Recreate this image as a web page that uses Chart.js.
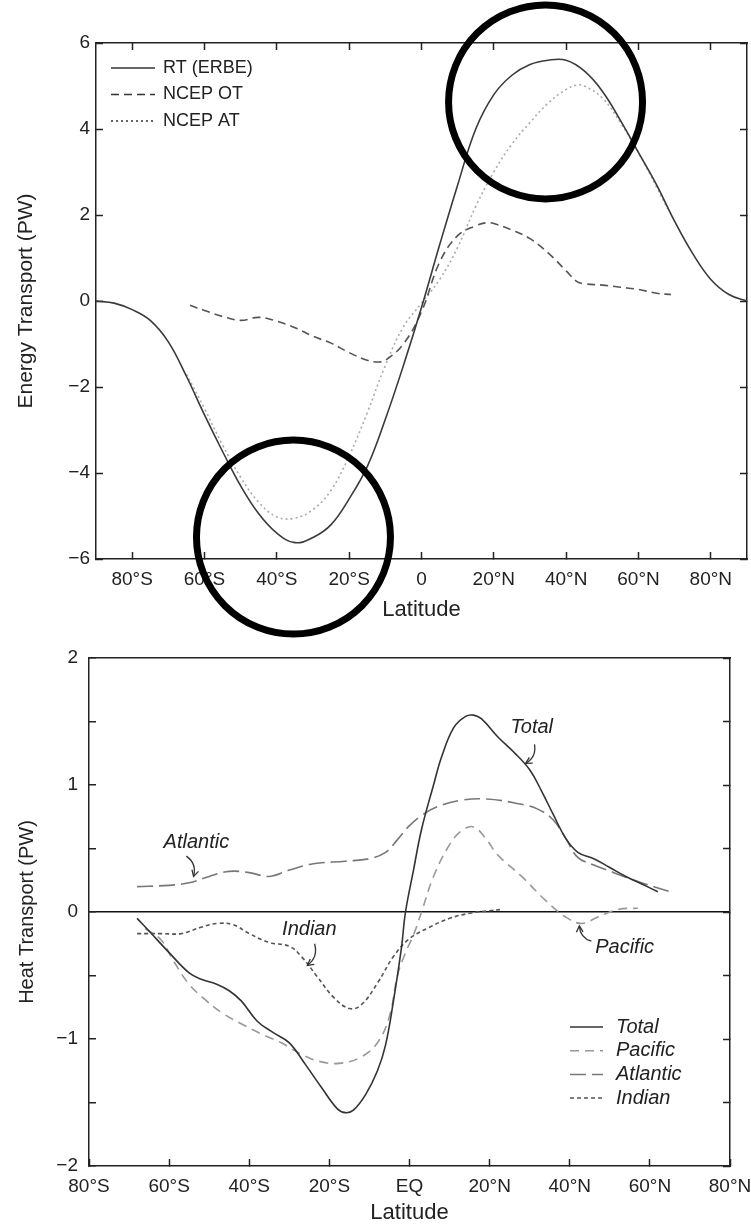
<!DOCTYPE html>
<html>
<head>
<meta charset="utf-8">
<title>Energy and heat transport by latitude</title>
<script src="https://cdn.jsdelivr.net/npm/chart.js@4.4.1/dist/chart.umd.min.js"></script>
<style>
  body { margin: 0; background: #fff; width: 751px; height: 1227px; overflow: hidden; }
  canvas { position: absolute; left: 0; }
  #energyChart { top: 0; }
  #heatChart { top: 640px; }
</style>
</head>
<body>
<canvas id="energyChart" width="751" height="640"></canvas>
<canvas id="heatChart" width="751" height="587"></canvas>
<script>
// ---- top panel: radiative vs NCEP ocean/atmosphere transport ----
const rtLat = [-90, -85, -80, -75, -70, -65, -60, -55, -50, -45, -40, -35, -30, -25, -20, -15, -10, -5, 0,
  5, 10, 15, 20, 25, 30, 35, 40, 45, 50, 55, 60, 65, 70, 75, 80, 85, 90];
const rtValues = [0, -0.05, -0.2, -0.45, -0.95, -1.75, -2.65, -3.5, -4.3, -4.95, -5.4, -5.62, -5.5, -5.2, -4.6, -3.85, -2.75, -1.5, -0.15,
  1.3, 2.7, 4.0, 4.8, 5.25, 5.5, 5.6, 5.6, 5.35, 4.88, 4.2, 3.45, 2.7, 1.85, 1.1, 0.5, 0.15, 0];

const otLat = [-64, -60, -55, -50, -45, -40, -35, -30, -25, -20, -15, -12, -10, -5, 0,
  5, 10, 15, 18, 20, 25, 30, 35, 40, 43, 45, 50, 55, 60, 65, 69];
const otValues = [-0.1, -0.22, -0.36, -0.45, -0.38, -0.47, -0.62, -0.82, -0.98, -1.2, -1.38, -1.42, -1.38, -1.0, -0.25,
  0.9, 1.52, 1.75, 1.82, 1.8, 1.65, 1.45, 1.12, 0.7, 0.45, 0.4, 0.37, 0.32, 0.27, 0.18, 0.15];

const atLat = [-65, -60, -55, -50, -45, -40, -35, -30, -25, -20, -15, -10, -5, 0,
  5, 10, 15, 20, 25, 30, 35, 40, 43, 45, 50, 55, 60, 65, 68];
const atValues = [-1.7, -2.5, -3.35, -4.1, -4.68, -5.02, -5.05, -4.85, -4.4, -3.6, -2.6, -1.5, -0.6, -0.05,
  0.5, 1.25, 2.2, 3.0, 3.65, 4.15, 4.6, 4.92, 5.02, 5.0, 4.72, 4.15, 3.45, 2.65, 2.15];

const energyLatTicks = [-80, -60, -40, -20, 0, 20, 40, 60, 80];
const energyLatLabels = ['80°S', '60°S', '40°S', '20°S', '0', '20°N', '40°N', '60°N', '80°N'];
const energyTicks = [-6, -4, -2, 0, 2, 4, 6];
const energyTickLabels = ['−6', '−4', '−2', '0', '2', '4', '6'];

// rings around the two transport extremes
const ringLat = [34.3, -35.4];
const ringValue = [4.63, -5.49];

// ---- bottom panel: ocean basin heat transport ----
const totalLat = [-68, -65, -60, -55, -52, -48, -45, -42, -38, -34, -30, -26, -22, -18, -16, -14, -11, -8, -6, -4, -2, -1,
  1, 3, 6, 8, 11, 14, 16, 18, 22, 26, 30, 33, 36, 39, 42, 46, 50, 54, 58, 62];
const totalValues = [-0.05, -0.15, -0.32, -0.48, -0.53, -0.57, -0.62, -0.7, -0.86, -0.95, -1.03, -1.2, -1.38, -1.55, -1.58, -1.56, -1.44, -1.25, -1.05, -0.7, -0.28, 0,
  0.33, 0.65, 1.0, 1.22, 1.45, 1.54, 1.55, 1.52, 1.38, 1.26, 1.12, 0.95, 0.76, 0.58, 0.47, 0.42, 0.35, 0.28, 0.22, 0.16];

const pacificLat = [-66, -62, -59, -55, -51, -47, -42, -37, -32, -27, -22, -17, -12, -8, -5, -3, -1,
  1, 3, 6, 10, 13, 16, 19, 22, 28, 34, 39, 43, 47, 52, 57];
const pacificValues = [-0.13, -0.22, -0.38, -0.57, -0.69, -0.79, -0.88, -0.96, -1.03, -1.12, -1.18, -1.19, -1.14, -1.03, -0.82, -0.5, -0.32,
  -0.18, 0.0, 0.28, 0.53, 0.64, 0.67, 0.58, 0.45, 0.28, 0.09, -0.04, -0.09, -0.04, 0.02, 0.03];

const atlanticLat = [-68, -60, -55, -50, -45, -40, -35, -30, -24, -16, -10, -6, -3, 0,
  3, 7, 13, 19, 26, 32, 36, 39, 42, 46, 51, 57, 65];
const atlanticValues = [0.2, 0.21, 0.23, 0.28, 0.32, 0.31, 0.28, 0.33, 0.38, 0.4, 0.42, 0.47, 0.57, 0.68,
  0.76, 0.83, 0.88, 0.89, 0.86, 0.81, 0.72, 0.58, 0.43, 0.37, 0.31, 0.24, 0.16];

const indianLat = [-68, -62, -57, -52, -48, -44, -40, -35, -30, -27, -23, -19, -15, -12, -8, -4, 0, 5, 10, 15, 20, 23];
const indianValues = [-0.17, -0.17, -0.17, -0.12, -0.09, -0.1, -0.17, -0.24, -0.27, -0.35, -0.51, -0.67, -0.76, -0.73, -0.56, -0.35, -0.21, -0.12, -0.05, -0.01, 0.01, 0.02];

const heatLatTicks = [-80, -60, -40, -20, 0, 20, 40, 60, 80];
const heatLatLabels = ['80°S', '60°S', '40°S', '20°S', 'EQ', '20°N', '40°N', '60°N', '80°N'];
const heatTicks = [-2, -1.5, -1, -0.5, 0, 0.5, 1, 1.5, 2];
const heatTickLabels = ['−2', '', '−1', '', '0', '', '1', '', '2'];

// inline basin labels with their pointer arrows (label position, arrow start, arrow end)
const noteText = ['Total', 'Atlantic', 'Indian', 'Pacific'];
const noteLat = [30.5, -53.2, -25, 53.7];
const noteValue = [1.45, 0.55, -0.14, -0.28];
const arrowFromLat = [31.2, -55.7, -23.7, 45.4];
const arrowFromValue = [1.32, 0.44, -0.25, -0.23];
const arrowToLat = [29.0, -53.9, -25.5, 42.4];
const arrowToValue = [1.17, 0.28, -0.42, -0.11];

const FONT = "'Liberation Sans', Arial, sans-serif";
const INK = '#222';
Chart.defaults.font.family = FONT;
Chart.defaults.color = INK;

function points(lat, vals) {
  return lat.map((x, i) => ({ x: x, y: vals[i] }));
}

function fixedTicks(values) {
  return scale => { scale.ticks = values.map(v => ({ value: v })); };
}

// pin the box size and drop the label overhang padding so the frame sits where we want it
function pinSize(dim, size) {
  return s => {
    s[dim] = size;
    s.paddingTop = s.paddingBottom = s.paddingLeft = s.paddingRight = 0;
  };
}

// axis with inward tick marks and a plain frame line
function frameAxis(pos, min, max, tickValues, extra) {
  return Object.assign({
    type: 'linear',
    position: pos,
    axis: (pos === 'top' || pos === 'bottom') ? 'x' : 'y',
    display: true,
    min: min,
    max: max,
    afterBuildTicks: fixedTicks(tickValues),
    grid: { drawOnChartArea: false, drawTicks: true, tickLength: -7, tickColor: INK, tickWidth: 1.5 },
    border: { display: true, color: INK, width: 1.5 },
    ticks: { display: false }
  }, extra);
}

function line(label, lat, vals, color, dash, width) {
  return {
    label: label,
    data: points(lat, vals),
    borderColor: color,
    borderDash: dash,
    borderWidth: width,
    pointRadius: 0,
    fill: false,
    tension: 0.4
  };
}

const insetLegend = {
  id: 'insetLegend',
  afterDraw(chart, args, opts) {
    const { ctx, chartArea } = chart;
    ctx.save();
    ctx.font = opts.font;
    ctx.textBaseline = 'middle';
    ctx.fillStyle = INK;
    chart.data.datasets.forEach((ds, i) => {
      const x = chartArea.left + opts.left;
      const y = chartArea.top + opts.top + i * opts.rowGap;
      ctx.beginPath();
      ctx.setLineDash(ds.borderDash || []);
      ctx.strokeStyle = opts.lineColor || ds.borderColor;
      ctx.lineWidth = 1.5;
      ctx.moveTo(x, y);
      ctx.lineTo(x + opts.lineLength, y);
      ctx.stroke();
      ctx.setLineDash([]);
      ctx.fillText(ds.label, x + opts.lineLength + opts.gap, y);
    });
    ctx.restore();
  }
};

const rings = {
  id: 'rings',
  afterDraw(chart) {
    const { ctx, scales } = chart;
    ctx.save();
    ctx.strokeStyle = '#000';
    ctx.lineWidth = 7;
    ringLat.forEach((lat, i) => {
      ctx.beginPath();
      ctx.arc(scales.x.getPixelForValue(lat), scales.y.getPixelForValue(ringValue[i]), 97, 0, Math.PI * 2);
      ctx.stroke();
    });
    ctx.restore();
  }
};

const notes = {
  id: 'notes',
  afterDatasetsDraw(chart) {
    const { ctx, scales } = chart;
    const px = v => scales.x.getPixelForValue(v);
    const py = v => scales.y.getPixelForValue(v);
    ctx.save();
    ctx.font = 'italic 20px ' + FONT;
    ctx.fillStyle = INK;
    ctx.textAlign = 'center';
    ctx.textBaseline = 'middle';
    noteText.forEach((t, i) => {
      ctx.fillText(t, px(noteLat[i]), py(noteValue[i]));
      const x1 = px(arrowFromLat[i]), y1 = py(arrowFromValue[i]);
      const x2 = px(arrowToLat[i]), y2 = py(arrowToValue[i]);
      // slightly bowed stem
      const cx = (x1 + x2) / 2 + (y2 - y1) * 0.35;
      const cy = (y1 + y2) / 2 - (x2 - x1) * 0.35;
      ctx.strokeStyle = '#333';
      ctx.lineWidth = 1.3;
      ctx.beginPath();
      ctx.moveTo(x1, y1);
      ctx.quadraticCurveTo(cx, cy, x2, y2);
      ctx.stroke();
      const a = Math.atan2(y2 - cy, x2 - cx);
      ctx.beginPath();
      ctx.moveTo(x2 - 7 * Math.cos(a - 0.5), y2 - 7 * Math.sin(a - 0.5));
      ctx.lineTo(x2, y2);
      ctx.lineTo(x2 - 7 * Math.cos(a + 0.5), y2 - 7 * Math.sin(a + 0.5));
      ctx.stroke();
    });
    ctx.restore();
  }
};

const tickFont = { family: FONT, size: 19 };

new Chart(document.getElementById('energyChart'), {
  type: 'line',
  data: {
    datasets: [
      line('RT (ERBE)', rtLat, rtValues, '#3a3a3a', [], 1.6),
      line('NCEP OT', otLat, otValues, '#555', [8, 5], 1.6),
      line('NCEP AT', atLat, atValues, '#aaa', [2, 3], 1.6)
    ]
  },
  options: {
    responsive: false,
    animation: false,
    layout: { padding: { top: 43, right: 4, left: 0, bottom: 0 } },
    plugins: {
      legend: { display: false },
      tooltip: { enabled: false },
      insetLegend: { font: '18px ' + FONT, left: 15, top: 25, rowGap: 26.5, lineLength: 44, gap: 8, lineColor: '#333' }
    },
    scales: {
      x: frameAxis('bottom', -90, 90, energyLatTicks, {
        afterFit: pinSize('height', 81),
        ticks: { display: true, font: tickFont, color: INK, padding: 16, maxRotation: 0, autoSkip: false,
          callback: (v, i) => energyLatLabels[i] },
        title: { display: true, text: 'Latitude', font: { family: FONT, size: 22 }, color: INK, padding: { top: 0, bottom: 17 } }
      }),
      x2: frameAxis('top', -90, 90, energyLatTicks, { afterFit: pinSize('height', 0) }),
      y: frameAxis('left', -6, 6, energyTicks, {
        afterFit: pinSize('width', 96),
        ticks: { display: true, font: tickFont, color: INK, padding: 13, autoSkip: false,
          callback: (v, i) => energyTickLabels[i] },
        title: { display: true, text: 'Energy Transport (PW)', font: { family: FONT, size: 21 }, color: INK, padding: { top: 14, bottom: 0 } }
      }),
      y2: frameAxis('right', -6, 6, energyTicks, { afterFit: pinSize('width', 0) })
    }
  },
  plugins: [insetLegend, rings]
});

new Chart(document.getElementById('heatChart'), {
  type: 'line',
  data: {
    datasets: [
      line('Total', totalLat, totalValues, '#333', [], 1.6),
      line('Pacific', pacificLat, pacificValues, '#999', [9, 6], 1.6),
      line('Atlantic', atlanticLat, atlanticValues, '#777', [16, 6], 1.6),
      line('Indian', indianLat, indianValues, '#555', [4, 3], 1.6)
    ]
  },
  options: {
    responsive: false,
    animation: false,
    layout: { padding: { top: 18, right: 21, left: 0, bottom: 0 } },
    plugins: {
      legend: { display: false },
      tooltip: { enabled: false },
      insetLegend: { font: 'italic 20px ' + FONT, left: 481, top: 369, rowGap: 23.7, lineLength: 33, gap: 13 }
    },
    scales: {
      x: frameAxis('bottom', -80, 80, heatLatTicks, {
        afterFit: pinSize('height', 61),
        ticks: { display: true, font: tickFont, color: INK, padding: 16, maxRotation: 0, autoSkip: false,
          callback: (v, i) => heatLatLabels[i] },
        title: { display: true, text: 'Latitude', font: { family: FONT, size: 22 }, color: INK, padding: { top: 0, bottom: 1 } }
      }),
      x2: frameAxis('top', -80, 80, heatLatTicks, {
        afterFit: pinSize('height', 0),
        grid: { drawOnChartArea: false, drawTicks: false }
      }),
      y: frameAxis('left', -2, 2, heatTicks, {
        afterFit: pinSize('width', 89),
        grid: {
          drawOnChartArea: true, drawTicks: true, tickLength: -7, tickColor: INK, tickWidth: 1.5, lineWidth: 1.5,
          color: c => (c.tick && c.tick.value === 0) ? '#111' : 'rgba(0,0,0,0)'
        },
        ticks: { display: true, font: tickFont, color: INK, padding: 18, autoSkip: false,
          callback: (v, i) => heatTickLabels[i] },
        title: { display: true, text: 'Heat Transport (PW)', font: { family: FONT, size: 20 }, color: INK, padding: { top: 15, bottom: 0 } }
      }),
      y2: frameAxis('right', -2, 2, heatTicks, { afterFit: pinSize('width', 0) })
    }
  },
  plugins: [insetLegend, notes]
});
</script>
</body>
</html>
